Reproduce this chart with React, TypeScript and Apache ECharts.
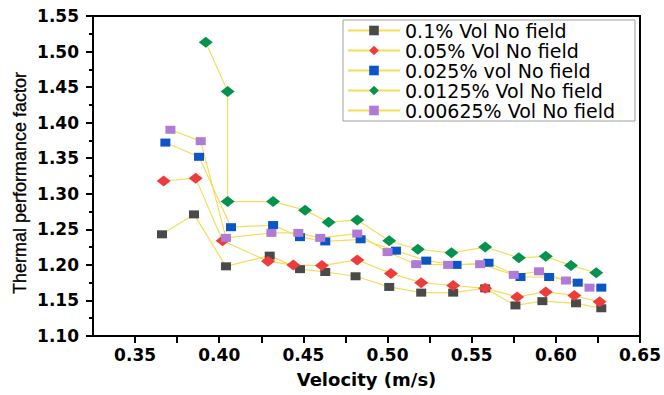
import React, { useEffect, useRef } from "react";
import * as echarts from "echarts";

// Velocity (m/s) and thermal performance factor for each concentration
const names = [
  "0.1% Vol No field",
  "0.05% Vol No field",
  "0.025% vol No field",
  "0.0125% Vol No field",
  "0.00625% Vol No field",
];

const velBlack = [0.366, 0.385, 0.404, 0.430, 0.448, 0.463, 0.481, 0.501, 0.520, 0.539, 0.558, 0.576, 0.592, 0.612, 0.627];
const tpfBlack = [1.243, 1.271, 1.198, 1.213, 1.194, 1.190, 1.184, 1.169, 1.161, 1.161, 1.167, 1.143, 1.149, 1.146, 1.139];

const velRed = [0.367, 0.386, 0.402, 0.429, 0.444, 0.461, 0.482, 0.502, 0.520, 0.539, 0.558, 0.577, 0.594, 0.611, 0.626];
const tpfRed = [1.318, 1.322, 1.234, 1.205, 1.200, 1.199, 1.207, 1.188, 1.175, 1.171, 1.167, 1.155, 1.162, 1.157, 1.148];

const velBlue = [0.368, 0.388, 0.407, 0.432, 0.448, 0.463, 0.484, 0.505, 0.523, 0.541, 0.560, 0.579, 0.596, 0.613, 0.627];
const tpfBlue = [1.372, 1.352, 1.253, 1.256, 1.239, 1.233, 1.236, 1.220, 1.206, 1.200, 1.203, 1.183, 1.183, 1.175, 1.168];

const velGreen = [0.392, 0.405, 0.405, 0.432, 0.451, 0.465, 0.482, 0.501, 0.518, 0.538, 0.558, 0.578, 0.594, 0.609, 0.624];
const tpfGreen = [1.513, 1.444, 1.289, 1.289, 1.277, 1.260, 1.263, 1.234, 1.222, 1.217, 1.225, 1.210, 1.212, 1.199, 1.189];

const velPurple = [0.371, 0.389, 0.404, 0.431, 0.447, 0.460, 0.482, 0.500, 0.517, 0.536, 0.555, 0.575, 0.590, 0.606, 0.620];
const tpfPurple = [1.390, 1.374, 1.238, 1.245, 1.245, 1.238, 1.244, 1.218, 1.201, 1.200, 1.201, 1.186, 1.191, 1.178, 1.168];

const xMin = 0.325;
const xMax = 0.65;
const xStep = 0.025;
const yMin = 1.1;
const yMax = 1.55;
const yStep = 0.05;

const colors = ["#4a4a4a", "#ef3b3b", "#0a55c8", "#04934f", "#b07bd6"];
const symbols = ["rect", "diamond", "rect", "diamond", "rect"];
const vels = [velBlack, velRed, velBlue, velGreen, velPurple];
const tpfs = [tpfBlack, tpfRed, tpfBlue, tpfGreen, tpfPurple];

export default function App() {
  const ref = useRef<HTMLDivElement>(null);
  useEffect(() => {
    if (!ref.current) return;
    const chart = echarts.init(ref.current, null, { renderer: "svg" });
    const series = names.map((n, i) => ({
      name: n,
      type: "line",
      data: vels[i].map((v, k) => [v, tpfs[i][k]]),
      symbol: symbols[i],
      symbolSize: symbols[i] === "rect" ? [10, 8] : [14, 11],
      itemStyle: { color: colors[i] },
      lineStyle: { color: "#f3de5c", width: 1.2 },
    }));
    chart.setOption({
      animation: false,
      backgroundColor: "#fff",
      grid: {
        left: 93,
        right: 24,
        top: 16,
        bottom: 59,
        show: true,
        borderColor: "#000",
        borderWidth: 2,
      },
      graphic: [
        {
          type: "text",
          x: 20,
          y: 183,
          rotation: Math.PI / 2,
          style: {
            text: "Thermal performance factor",
            fontFamily: "Liberation Sans",
            fontSize: 18,
            fill: "#000",
            stroke: "#000",
            lineWidth: 0.3,
            align: "center",
            verticalAlign: "middle",
          },
        },
      ],
      legend: {
        orient: "vertical",
        left: 343,
        top: 20,
        padding: [1, 20, 1, 4],
        itemWidth: 52,
        itemHeight: 12,
        itemGap: 1,
        borderColor: "#a0a0a0",
        borderWidth: 1,
        backgroundColor: "#fff",
        data: names,
        textStyle: {
          fontFamily: "DejaVu Sans",
          fontSize: 19,
          lineHeight: 19,
          color: "#000",
        },
      },
      xAxis: {
        type: "value",
        min: xMin,
        max: xMax,
        interval: xStep,
        name: "Velocity (m/s)",
        nameLocation: "middle",
        nameGap: 34,
        nameTextStyle: {
          fontFamily: "DejaVu Sans",
          fontWeight: "bold",
          fontSize: 18,
          color: "#000",
        },
        splitLine: { show: false },
        axisLine: { show: true, lineStyle: { color: "#000", width: 2 } },
        axisTick: {
          show: true,
          inside: false,
          length: 7,
          lineStyle: { color: "#000", width: 2 },
        },
        axisLabel: {
          margin: 10,
          showMinLabel: false,
          fontFamily: "DejaVu Sans",
          fontWeight: "bold",
          fontSize: 17,
          color: "#000",
          formatter: (v: number) =>
            Math.round(v * 1000) % 50 === 0 ? v.toFixed(2) : "",
        },
      },
      yAxis: {
        type: "value",
        min: yMin,
        max: yMax,
        interval: yStep,
        splitLine: { show: false },
        axisLine: { show: true, lineStyle: { color: "#000", width: 2 } },
        axisTick: { show: true, length: 7, lineStyle: { color: "#000", width: 2 } },
        minorTick: { show: true, splitNumber: 2, length: 4, lineStyle: { color: "#000", width: 2 } },
        axisLabel: {
          margin: 14,
          fontFamily: "DejaVu Sans",
          fontWeight: "bold",
          fontSize: 17,
          color: "#000",
          formatter: (v: number) => v.toFixed(2),
        },
      },
      series,
    });
    return () => chart.dispose();
  }, []);
  return (
    <div
      ref={ref}
      style={{
        position: "fixed",
        left: 0,
        top: 0,
        width: 664,
        height: 395,
        overflow: "hidden",
      }}
    />
  );
}
